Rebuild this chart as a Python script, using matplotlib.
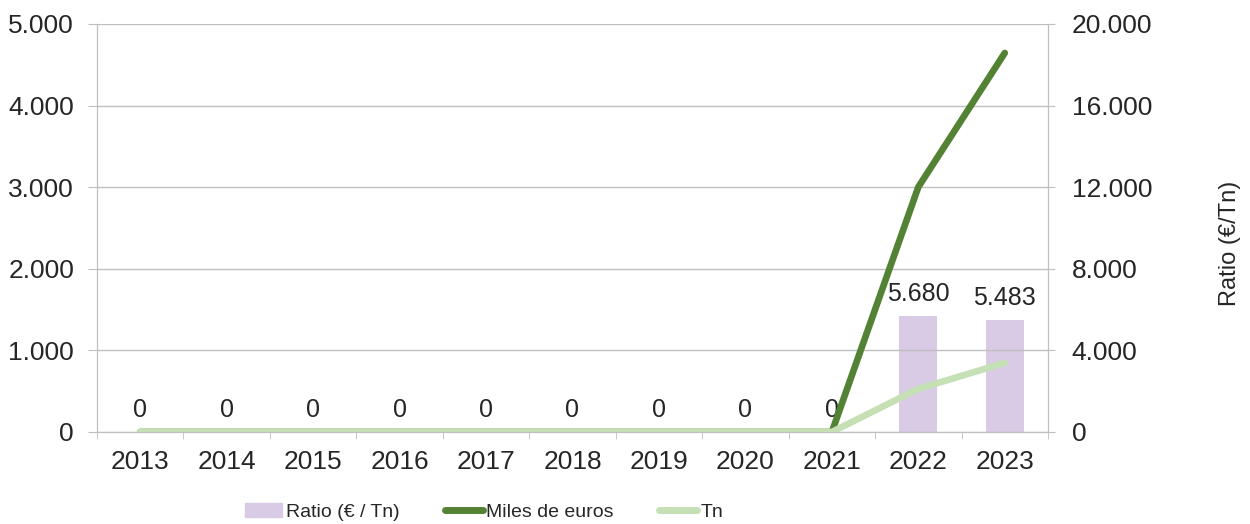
import matplotlib.pyplot as plt
from matplotlib.lines import Line2D
from matplotlib.patches import Patch
import numpy as np

plt.rcParams['font.family'] = ['Liberation Sans', 'DejaVu Sans']

# Datos
anios = ['2013', '2014', '2015', '2016', '2017', '2018', '2019', '2020', '2021', '2022', '2023']
ratio = [0, 0, 0, 0, 0, 0, 0, 0, 0, 5680, 5483]
miles_euros = [0, 0, 0, 0, 0, 0, 0, 0, 0, 3002, 4645]
toneladas = [0, 0, 0, 0, 0, 0, 0, 0, 0, 529, 847]

def fmt_miles(v):
    return f"{int(v):,}".replace(',', '.')

x = np.arange(len(anios))
gris = '#BFBFBF'
texto = '#262626'

fig = plt.figure(figsize=(12.5, 5.24), dpi=100)
ax = fig.add_axes([0.0776, 0.1756, 0.7608, 0.7786])
ax2 = ax.twinx()

# Barras del ratio (eje derecho)
ax2.bar(x, ratio, width=0.44, color='#D9CAE5', zorder=2)
for xi, v in zip(x, ratio):
    ax2.annotate(fmt_miles(v), (xi, v), xytext=(0, 7), textcoords='offset points',
                 ha='center', va='bottom', fontsize=18, color=texto)
ax2.set_ylim(0, 20000)
ax2.set_yticks(np.arange(0, 20001, 4000))
ax2.set_yticklabels([fmt_miles(v) for v in np.arange(0, 20001, 4000)])

# Lineas (eje izquierdo)
ax.plot(x, miles_euros, color='#548235', lw=4.8, solid_capstyle='round', zorder=3)
ax.plot(x, toneladas, color='#C5E0B4', lw=4.8, solid_capstyle='round', zorder=4)
ax.set_ylim(0, 5000)
ax.set_yticks(np.arange(0, 5001, 1000))
ax.set_yticklabels([fmt_miles(v) for v in np.arange(0, 5001, 1000)])
ax.set_xlim(-0.5, len(anios) - 0.5)
ax.set_zorder(ax2.get_zorder() + 1)
ax.patch.set_visible(False)

ax.grid(axis='y', color=gris, lw=1)
ax.set_xticks(x)
ax.set_xticklabels(anios)
ax.set_xticks(np.arange(-0.5, len(anios), 1), minor=True)
ax.tick_params(axis='x', which='major', length=0, pad=13, labelsize=19, labelcolor=texto)
ax.tick_params(axis='x', which='minor', length=5, color=gris)
ax.tick_params(axis='y', length=6.5, color=gris, labelsize=19, labelcolor=texto, pad=10)
ax2.tick_params(axis='y', length=5, color=gris, labelsize=19, labelcolor=texto, pad=12)

for a in (ax, ax2):
    for s in a.spines.values():
        s.set_color(gris)
    a.spines['top'].set_visible(False)

fig.text(0.984, 0.536, 'Ratio (€/Tn)', rotation=90, ha='center', va='center',
         fontsize=17, color=texto)

handles = [Patch(color='#D9CAE5'),
           Line2D([0], [0], color='#548235', lw=5, solid_capstyle='round'),
           Line2D([0], [0], color='#C5E0B4', lw=5, solid_capstyle='round')]
fig.legend(handles, ['Ratio (€ / Tn)', 'Miles de euros', 'Tn'], loc='center left',
           bbox_to_anchor=(0.1816, 0.023), ncol=3, frameon=False,
           fontsize=14, handlelength=1.95, handletextpad=0.2, columnspacing=2.3,
           labelcolor=texto)

fig.savefig('out.png', dpi=100)
